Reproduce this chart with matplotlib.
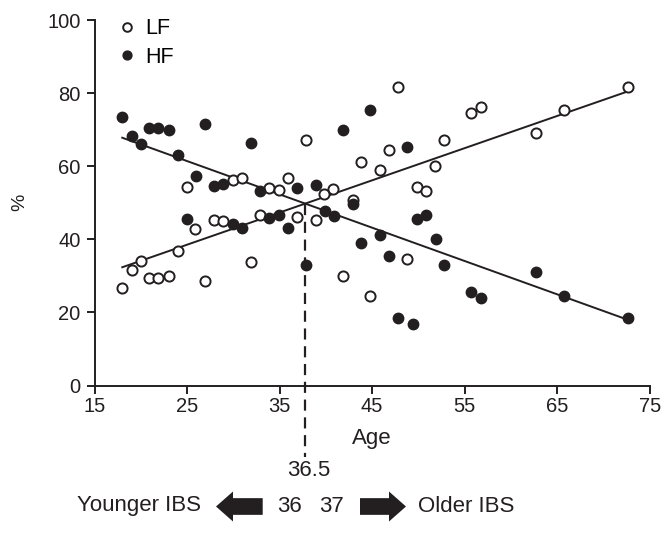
import numpy as np
import matplotlib
matplotlib.use("Agg")
import matplotlib.pyplot as plt
from matplotlib.patches import FancyArrow

plt.rcParams["font.family"] = ["Liberation Sans", "DejaVu Sans"]

# LF (open circles)
lf_age = [18.0, 19.0, 20.0, 20.9, 21.9, 23.0, 24.0, 25.0, 25.9, 26.9, 27.9, 28.9,
          30.0, 30.9, 31.9, 32.9, 33.9, 34.9, 35.9, 36.9, 37.9, 38.9, 39.8, 40.8,
          41.9, 42.9, 43.8, 44.8, 45.8, 46.8, 47.8, 48.8, 49.8, 50.8, 51.8, 52.8,
          55.7, 56.8, 62.7, 65.7, 72.7]
lf_pct = [26.8, 31.6, 34.1, 29.5, 29.5, 30.0, 36.8, 54.4, 42.7, 28.6, 45.3, 45.0,
          56.1, 56.9, 33.9, 46.7, 54.1, 53.5, 56.9, 46.0, 67.2, 45.3, 52.3, 53.7,
          30.0, 50.8, 61.2, 24.5, 59.0, 64.4, 81.6, 34.5, 54.4, 53.2, 60.1, 67.2,
          74.5, 76.1, 69.2, 75.4, 81.6]

# HF (filled circles)
hf_age = [18.0, 19.0, 20.0, 20.9, 21.9, 23.0, 24.0, 25.0, 25.95, 26.9, 27.9, 28.9,
          30.0, 30.9, 31.9, 32.9, 33.9, 34.9, 35.9, 36.9, 37.9, 38.9, 39.9, 40.9,
          41.9, 42.9, 43.8, 44.8, 45.8, 46.8, 47.8, 48.8, 49.4, 49.8, 50.8, 51.9,
          52.8, 55.7, 56.8, 62.7, 65.7, 72.7]
hf_pct = [73.4, 68.3, 66.0, 70.4, 70.5, 69.9, 63.1, 45.6, 57.3, 71.5, 54.7, 55.0,
          44.1, 43.1, 66.3, 53.2, 45.9, 46.6, 43.2, 54.0, 32.9, 54.8, 47.7, 46.4,
          70.0, 49.7, 38.9, 75.4, 41.2, 35.4, 18.4, 65.3, 16.8, 45.6, 46.7, 40.0,
          32.9, 25.5, 23.9, 31.1, 24.6, 18.6]

x_ticks = [15, 25, 35, 45, 55, 65, 75]
y_ticks = [0, 20, 40, 60, 80, 100]
cutoff_label = "36.5"

W, H = 669, 533
INK = "#231f20"
fig = plt.figure(figsize=(W / 100, H / 100), dpi=100)
ax = fig.add_axes([94.5 / W, 1 - 385.5 / H, (649.7 - 94.5) / W, (385.5 - 20) / H])

# regression lines
lf_fit = np.polyfit(lf_age, lf_pct, 1)
hf_fit = np.polyfit(hf_age, hf_pct, 1)
xs = np.array([min(lf_age), max(lf_age)])
ax.plot(xs, np.polyval(lf_fit, xs), color=INK, lw=1.4, zorder=2)
ax.plot(xs, np.polyval(hf_fit, xs), color=INK, lw=1.4, zorder=2)

# dashed line at the crossing
x_cross = (hf_fit[1] - lf_fit[1]) / (lf_fit[0] - hf_fit[0])
y_cross = np.polyval(lf_fit, x_cross)
ax.plot([x_cross, x_cross], [y_cross, -19.6], color=INK, lw=1.6,
        ls=(0, (5, 3)), clip_on=False, zorder=2)

ax.plot(lf_age, lf_pct, "o", ms=7.3, mfc="white", mec=INK, mew=1.4,
        ls="none", label="LF", zorder=3)
ax.plot(hf_age, hf_pct, "o", ms=7.5, mfc=INK, mec=INK, mew=1.0,
        ls="none", label="HF", zorder=3)

ax.set_xlim(15, 75)
ax.set_ylim(0, 100)
ax.set_xticks(x_ticks)
ax.set_yticks(y_ticks)
for s in ["top", "right"]:
    ax.spines[s].set_visible(False)
for s in ["left", "bottom"]:
    ax.spines[s].set_linewidth(1.4)
    ax.spines[s].set_color(INK)
ax.tick_params(direction="out", length=6, width=1.4, color=INK,
               labelsize=14.5, labelcolor=INK)
ax.tick_params(axis="x", pad=2)
ax.tick_params(axis="y", pad=4)
ax.set_xlabel("Age", fontsize=16, color=INK, labelpad=9)
ax.set_ylabel("%", fontsize=14, color=INK, labelpad=14)

ax.legend(loc="upper left", bbox_to_anchor=(0.043, 1.005), frameon=False,
          fontsize=15.5, handlelength=0.8, handletextpad=0.45, labelspacing=0.35,
          markerscale=0.85, borderaxespad=0, borderpad=0)

# bottom annotation in pixel coords
ov = fig.add_axes([0, 0, 1, 1])
ov.set_xlim(0, W)
ov.set_ylim(H, 0)
ov.axis("off")
ov.patch.set_alpha(0)
ov.text(309, 470, cutoff_label, ha="center", va="center", fontsize=16, color=INK)
ov.text(139, 506, "Younger IBS", ha="center", va="center", fontsize=16, color=INK)
ov.text(466, 506, "Older IBS", ha="center", va="center", fontsize=16, color=INK)
ov.text(289, 506, "36", ha="center", va="center", fontsize=16, color=INK)
ov.text(331, 506, "37", ha="center", va="center", fontsize=16, color=INK)
ov.add_patch(FancyArrow(262.7, 506.5, -46.7, 0, width=16.7, head_width=30, head_length=17,
                        length_includes_head=True, color=INK, lw=0))
ov.add_patch(FancyArrow(360, 506.5, 46, 0, width=16.7, head_width=30, head_length=17,
                        length_includes_head=True, color=INK, lw=0))

fig.savefig("out.png", dpi=100)
